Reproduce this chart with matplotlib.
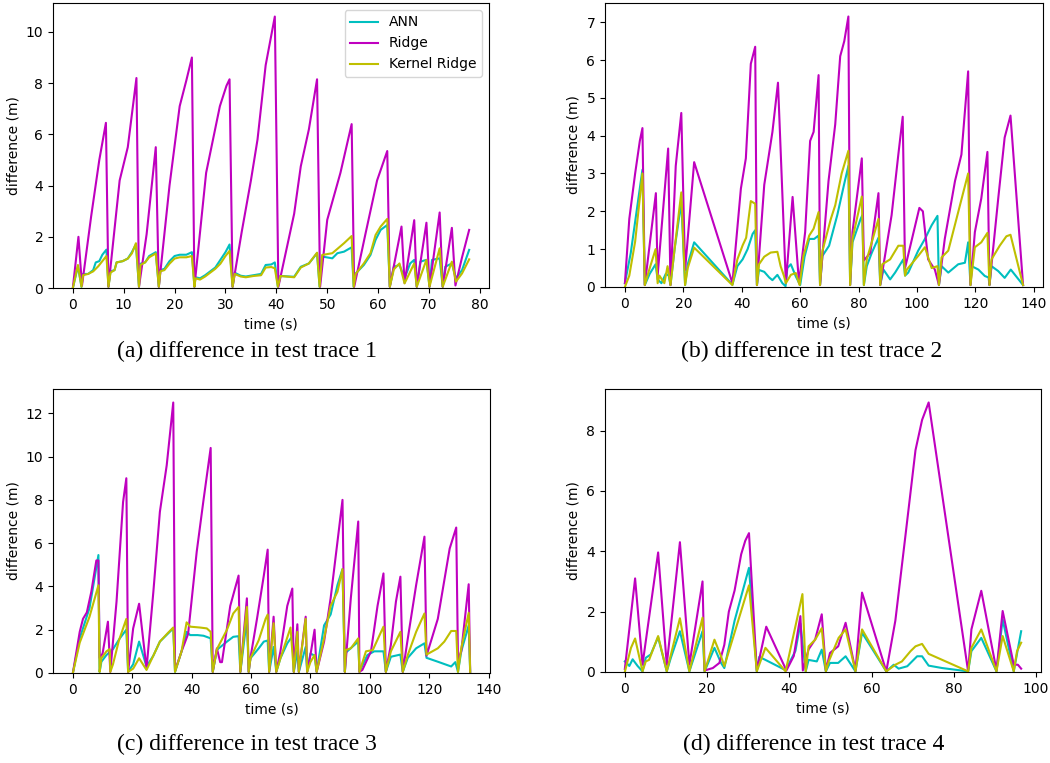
import matplotlib
matplotlib.use("Agg")
import matplotlib.pyplot as plt

# (time s, difference m)
a_ann = [(0, 0), (1.0, 0.85), (1.7, 0.05), (2.0, 0.55), (3.0, 0.55), (4.0, 0.7), (4.5, 1.0), (5.2, 1.05),
         (5.8, 1.3), (6.6, 1.5), (7.0, 0.05), (7.4, 0.65), (8.2, 0.7), (8.6, 1.0), (9.8, 1.05), (10.8, 1.15),
         (11.6, 1.4), (12.4, 1.7), (13.0, 0.05), (13.3, 0.95), (14.2, 1.0), (15.0, 1.25), (16.3, 1.4),
         (16.9, 0.05), (17.2, 0.7), (18.0, 0.75), (19.0, 1.05), (20.0, 1.25), (21.0, 1.3), (22.3, 1.3),
         (23.4, 1.4), (23.9, 0.05), (24.1, 0.42), (25.0, 0.38), (26.0, 0.5), (27.0, 0.65), (28.0, 0.8),
         (29.0, 1.1), (30.0, 1.4), (30.8, 1.7), (31.4, 0.05), (31.8, 0.6), (33.0, 0.48), (34.0, 0.45),
         (35.5, 0.5), (37.0, 0.55), (37.9, 0.9), (39.0, 0.92), (39.7, 1.0), (40.3, 0.05), (40.8, 0.47),
         (43.5, 0.44), (44.8, 0.83), (46.4, 0.96), (48.0, 1.36), (48.5, 0.05), (49.0, 1.23), (51.0, 1.16),
         (52.0, 1.36), (53.3, 1.42), (54.8, 1.59), (55.2, 0.05), (55.6, 0.57), (57.2, 0.9), (58.5, 1.29),
         (59.5, 1.88), (60.5, 2.27), (61.8, 2.46), (62.3, 0.05), (63.1, 0.83), (64.2, 0.9), (65.2, 0.38),
         (66.3, 0.96), (67.1, 1.1), (67.6, 0.05), (68.3, 1.03), (69.5, 1.1), (70.1, 0.05), (70.6, 1.1),
         (72.1, 1.16), (72.7, 0.05), (73.2, 0.83), (74.5, 0.96), (75.3, 0.38), (76.5, 0.7), (77.9, 1.49)]
a_ridge = [(0, 0), (1.1, 2.0), (1.8, 0.1), (3.6, 2.8), (5.2, 5.0), (6.5, 6.45), (7.0, 0.05), (9.2, 4.2),
           (10.8, 5.5), (12.5, 8.2), (13.0, 0.05), (14.5, 2.1), (16.3, 5.5), (16.9, 0.05), (19.0, 4.0),
           (21.0, 7.1), (22.3, 8.1), (23.4, 9.0), (23.9, 0.05), (26.2, 4.5), (28.9, 7.1), (30.2, 7.9),
           (30.8, 8.15), (31.4, 0.05), (33.2, 2.2), (35.0, 4.2), (36.3, 5.8), (37.9, 8.7), (39.7, 10.6),
           (40.4, 0.05), (43.5, 2.9), (44.8, 4.75), (46.4, 6.2), (48.0, 8.15), (48.6, 0.05), (50.0, 2.66),
           (52.6, 4.5), (54.8, 6.4), (55.3, 0.05), (57.5, 2.1), (59.8, 4.2), (61.8, 5.35), (62.3, 0.05),
           (64.6, 2.4), (65.2, 0.2), (67.1, 2.65), (67.6, 0.05), (69.5, 2.55), (70.1, 0.05), (72.1, 2.95),
           (72.7, 0.05), (74.5, 2.35), (75.2, 0.1), (76.5, 1.2), (77.9, 2.27)]
a_kernel = [(0, 0), (1.0, 0.9), (1.7, 0.05), (2.0, 0.5), (3.0, 0.55), (4.0, 0.65), (5.0, 0.85), (6.0, 1.1),
            (6.6, 1.25), (7.0, 0.05), (7.4, 0.6), (8.2, 0.7), (8.6, 1.0), (9.8, 1.05), (10.8, 1.15),
            (11.6, 1.35), (12.4, 1.75), (13.0, 0.05), (13.3, 0.9), (14.2, 1.0), (15.0, 1.2), (16.3, 1.35),
            (16.9, 0.05), (17.2, 0.65), (18.0, 0.7), (19.0, 0.95), (20.0, 1.15), (21.0, 1.2), (22.3, 1.2),
            (23.4, 1.25), (23.9, 0.05), (24.1, 0.38), (25.0, 0.33), (26.0, 0.45), (27.0, 0.6), (28.0, 0.75),
            (29.0, 0.95), (30.0, 1.25), (30.8, 1.45), (31.4, 0.05), (31.8, 0.55), (33.0, 0.45), (34.0, 0.42),
            (35.5, 0.47), (37.0, 0.5), (37.9, 0.8), (39.0, 0.82), (39.7, 0.77), (40.3, 0.05), (40.8, 0.47),
            (43.5, 0.42), (44.8, 0.8), (46.4, 0.96), (48.0, 1.38), (48.5, 0.05), (49.0, 1.29), (51.0, 1.36),
            (53.3, 1.75), (54.8, 2.03), (55.2, 0.05), (55.6, 0.55), (57.2, 0.96), (58.5, 1.36), (59.5, 2.07),
            (60.5, 2.4), (61.8, 2.7), (62.3, 0.05), (63.1, 0.73), (64.2, 0.96), (65.2, 0.18), (67.1, 0.96),
            (67.6, 0.05), (69.5, 1.1), (70.1, 0.05), (72.1, 1.55), (72.7, 0.05), (74.5, 1.03), (75.3, 0.25),
            (76.5, 0.57), (77.9, 1.12)]

b_ann = [(0, 0.1), (2.0, 0.9), (4.0, 2.0), (6.0, 3.1), (6.8, 0.05), (8.5, 0.35), (10.5, 0.6), (11.2, 0.2),
         (12.5, 0.1), (14.0, 0.35), (15.0, 0.3), (15.6, 0.05), (17.0, 1.0), (19.3, 2.25), (20.6, 0.05),
         (21.5, 0.6), (23.7, 1.18), (36.8, 0.06), (38.5, 0.55), (40.3, 0.73), (42.0, 1.0), (43.7, 1.4),
         (44.6, 1.5), (45.2, 0.05), (45.9, 0.45), (47.7, 0.4), (49.4, 0.25), (50.5, 0.18), (52.2, 0.32),
         (53.9, 0.1), (55.0, 0.02), (55.6, 0.5), (56.8, 0.6), (58.5, 0.28), (60.0, 0.05), (61.5, 0.8),
         (63.1, 1.27), (64.8, 1.27), (66.3, 1.36), (66.8, 0.05), (67.6, 0.82), (69.9, 1.09), (72.7, 1.9),
         (75.0, 2.7), (76.5, 3.2), (77.1, 0.05), (77.9, 1.18), (80.7, 1.8), (81.3, 1.9), (81.8, 0.05),
         (82.8, 0.55), (84.5, 0.9), (86.8, 1.3), (87.4, 0.05), (88.5, 0.46), (90.8, 0.2), (92.5, 0.38),
         (95.3, 0.73), (95.9, 0.3), (97.0, 0.38), (100.4, 0.96), (102.7, 1.27), (105.0, 1.63), (107.0, 1.88),
         (107.5, 0.05), (108.4, 0.55), (110.7, 0.38), (114.1, 0.6), (116.4, 0.64), (117.5, 1.18),
         (118.3, 0.05), (118.7, 0.55), (121.0, 0.46), (123.2, 0.29), (124.5, 0.25), (124.8, 0.05),
         (125.5, 0.55), (127.8, 0.42), (130.0, 0.24), (132.1, 0.46), (136.3, 0.05)]
b_ridge = [(0, 0.1), (1.5, 1.8), (3.5, 3.0), (5.1, 3.86), (6.0, 4.2), (6.8, 0.05), (10.6, 2.48), (11.2, 0.3),
           (14.8, 3.66), (15.6, 0.05), (17.4, 3.2), (19.3, 4.6), (20.6, 0.45), (23.7, 3.3), (36.8, 0.1),
           (39.7, 2.6), (41.4, 3.4), (43.1, 5.9), (44.6, 6.35), (45.2, 0.05), (47.7, 2.7), (50.5, 4.1),
           (52.4, 5.4), (55.1, 0.1), (57.4, 2.38), (59.6, 0.1), (61.7, 1.45), (63.4, 3.86), (64.6, 4.1),
           (66.3, 5.6), (66.8, 0.05), (69.7, 2.8), (72.0, 4.3), (73.7, 6.1), (75.1, 6.5), (76.5, 7.15),
           (77.1, 0.05), (77.9, 1.45), (81.1, 3.4), (81.8, 0.7), (84.0, 0.9), (86.8, 2.48), (87.4, 0.05),
           (91.3, 1.9), (93.6, 3.5), (95.1, 4.5), (95.9, 0.5), (100.8, 2.09), (102.0, 2.0), (103.8, 0.73),
           (106.1, 0.46), (107.5, 0.05), (109.5, 1.27), (113.0, 2.8), (115.2, 3.5), (117.5, 5.7),
           (118.3, 0.05), (119.8, 1.45), (122.0, 2.34), (124.1, 3.57), (124.8, 0.05), (127.8, 2.34),
           (130.0, 3.95), (132.0, 4.53), (136.3, 0.05)]
b_kernel = [(0, 0.0), (1.5, 0.3), (3.5, 1.2), (6.0, 3.0), (6.8, 0.05), (8.5, 0.5), (10.5, 1.0), (11.2, 0.1),
            (11.8, 0.3), (13.5, 0.1), (14.6, 0.55), (15.6, 0.05), (17.0, 1.0), (19.3, 2.5), (20.6, 0.05),
            (21.5, 0.5), (23.7, 1.04), (36.8, 0.05), (38.5, 0.73), (40.3, 1.1), (41.5, 1.3), (43.1, 2.27),
            (44.6, 2.2), (45.2, 0.05), (45.9, 0.6), (47.7, 0.8), (49.9, 0.91), (52.2, 0.93), (53.3, 0.55),
            (54.5, 0.28), (55.1, 0.1), (56.8, 0.32), (58.5, 0.37), (59.8, 0.05), (61.1, 0.82), (63.1, 1.36),
            (64.6, 1.54), (66.3, 1.98), (66.8, 0.05), (67.6, 0.95), (70.5, 1.8), (72.0, 2.16), (74.2, 3.0),
            (76.5, 3.6), (77.1, 0.05), (77.9, 1.27), (81.1, 2.39), (81.8, 0.05), (82.8, 0.73), (84.5, 1.18),
            (86.8, 1.8), (87.4, 0.05), (88.1, 0.6), (90.8, 0.73), (93.6, 1.09), (95.3, 1.09), (95.9, 0.3),
            (96.5, 0.46), (100.4, 0.82), (102.7, 1.05), (105.0, 0.5), (107.0, 0.55), (107.5, 0.05),
            (108.4, 0.78), (110.7, 0.96), (114.1, 1.98), (117.5, 3.0), (118.3, 0.05), (119.8, 1.05),
            (122.0, 1.18), (124.1, 1.43), (124.8, 0.05), (125.5, 0.73), (128.3, 1.09), (130.6, 1.34),
            (132.0, 1.38), (136.3, 0.05)]

c_ann = [(0, 0), (2.3, 1.6), (5.6, 3.0), (8.6, 5.45), (9.0, 0.05), (9.6, 0.52), (11.3, 0.83), (13.5, 1.1),
         (15.8, 1.6), (18.0, 2.0), (18.6, 0.05), (20.3, 0.4), (22.3, 1.45), (24.8, 0.3), (27.1, 0.8),
         (29.3, 1.45), (32.1, 1.83), (33.8, 2.06), (34.4, 0.05), (36.6, 1.0), (38.3, 1.9), (39.5, 1.75),
         (42.0, 1.75), (44.0, 1.72), (46.4, 1.6), (47.1, 0.05), (48.5, 1.07), (51.9, 1.45), (54.0, 1.67),
         (55.8, 1.7), (56.4, 0.05), (58.6, 2.5), (59.2, 0.05), (59.8, 0.68), (62.6, 1.14), (64.3, 1.45),
         (65.6, 1.5), (66.1, 0.05), (67.6, 1.2), (68.5, 0.05), (69.9, 0.68), (72.2, 1.37), (73.9, 1.7),
         (74.4, 0.05), (75.6, 1.0), (76.1, 0.05), (78.4, 1.2), (78.9, 0.05), (80.0, 0.9), (81.4, 0.8),
         (82.1, 0.05), (84.6, 2.2), (86.8, 2.7), (89.1, 4.06), (90.8, 4.8), (91.6, 0.05), (92.0, 0.95),
         (96.1, 1.45), (96.5, 0.05), (98.0, 0.5), (99.2, 0.83), (101.5, 1.0), (104.6, 1.0), (105.4, 0.05),
         (107.1, 0.75), (110.3, 0.85), (111.1, 0.05), (112.8, 0.7), (115.6, 1.14), (118.4, 1.37),
         (119.1, 0.7), (122.9, 0.52), (127.4, 0.3), (128.8, 0.5), (129.7, 0.05), (130.8, 1.0), (133.3, 2.2),
         (133.8, 0.05)]
c_ridge = [(0, 0), (2.3, 1.9), (3.4, 2.5), (4.7, 2.8), (6.2, 3.75), (7.9, 5.2), (8.6, 5.2), (9.0, 0.7),
           (10.0, 0.9), (11.8, 2.37), (12.6, 0.05), (14.7, 3.3), (16.9, 7.9), (18.0, 9.0), (18.6, 0.05),
           (20.3, 2.06), (22.3, 3.2), (24.8, 0.2), (27.1, 3.75), (29.3, 7.45), (31.6, 9.6), (33.8, 12.5),
           (34.4, 0.1), (36.6, 1.0), (38.8, 1.8), (41.7, 5.6), (44.0, 8.0), (46.4, 10.4), (47.1, 0.05),
           (48.5, 1.14), (49.6, 0.5), (50.2, 0.5), (53.0, 3.1), (55.8, 4.5), (56.4, 0.05), (58.6, 3.45),
           (59.2, 0.05), (59.8, 0.7), (62.0, 2.5), (64.3, 4.5), (65.6, 5.7), (66.1, 0.05), (67.6, 2.6),
           (68.5, 0.05), (69.9, 1.0), (72.2, 3.1), (73.9, 3.9), (74.4, 0.05), (75.6, 2.25), (76.1, 0.05),
           (78.4, 2.6), (78.9, 0.05), (80.0, 0.83), (81.4, 2.0), (82.1, 0.05), (84.6, 1.45), (86.8, 3.45),
           (89.1, 6.06), (90.8, 8.0), (91.6, 0.05), (93.6, 3.45), (96.1, 7.0), (96.5, 0.05), (97.5, 0.14),
           (100.4, 1.0), (102.6, 3.1), (104.6, 4.6), (105.4, 0.05), (107.1, 1.3), (108.8, 3.3), (110.3, 4.45),
           (111.1, 0.05), (112.8, 1.6), (115.6, 4.06), (118.4, 6.3), (119.1, 0.8), (122.9, 2.5),
           (126.9, 5.75), (129.1, 6.72), (129.7, 0.6), (130.8, 1.0), (133.3, 4.1), (133.8, 0.05)]
c_kernel = [(0, 0), (2.3, 1.4), (5.6, 2.6), (8.6, 4.05), (9.0, 0.05), (9.6, 0.68), (11.3, 1.0), (12.4, 1.1),
            (12.6, 0.05), (13.5, 0.4), (15.5, 1.5), (18.0, 2.5), (18.6, 0.05), (20.3, 0.2), (22.3, 0.68),
            (24.8, 0.14), (27.1, 0.8), (29.3, 1.45), (32.0, 1.85), (33.8, 2.1), (34.4, 0.05), (36.6, 1.0),
            (38.3, 2.34), (39.5, 2.14), (42.8, 2.1), (45.1, 2.06), (46.4, 1.9), (47.1, 0.05), (48.5, 1.1),
            (51.9, 2.0), (54.0, 2.75), (55.8, 3.05), (56.4, 0.05), (58.6, 3.05), (59.2, 0.05), (59.8, 0.68),
            (62.6, 1.52), (64.9, 2.5), (65.6, 2.7), (66.1, 0.05), (67.6, 2.3), (68.5, 0.05), (69.9, 0.68),
            (73.3, 2.1), (74.4, 0.05), (75.6, 1.9), (76.1, 0.05), (78.4, 2.5), (78.9, 0.05), (80.0, 0.5),
            (81.4, 0.83), (82.1, 0.05), (84.6, 1.6), (86.8, 3.1), (89.1, 3.75), (90.8, 4.8), (91.6, 0.05),
            (91.9, 1.06), (93.6, 1.14), (96.1, 1.6), (96.5, 0.05), (98.7, 1.0), (101.0, 1.06), (104.6, 2.14),
            (105.4, 0.05), (107.1, 1.0), (110.3, 1.9), (111.1, 0.05), (112.8, 0.83), (115.6, 1.9),
            (118.4, 2.75), (119.1, 0.85), (122.9, 1.14), (125.1, 1.45), (127.4, 1.94), (129.1, 1.94),
            (129.7, 0.05), (130.8, 1.14), (133.3, 2.78), (133.8, 0.05)]

d_ann = [(0, 0.35), (1.1, 0.2), (1.9, 0.42), (3.1, 0.2), (4.3, 0.02), (5.1, 0.47), (6.3, 0.58), (8.1, 1.15),
         (10.2, 0.02), (11.2, 0.47), (13.4, 1.35), (15.7, 0.02), (18.9, 1.35), (19.4, 0.02), (21.8, 0.8),
         (23.4, 0.3), (24.2, 0.13), (26.7, 1.7), (28.3, 2.5), (30.2, 3.45), (32.1, 0.02), (32.7, 0.5),
         (34.2, 0.4), (39.1, 0.06), (41.5, 0.7), (42.7, 1.6), (44.0, 0.02), (44.7, 0.4), (46.7, 0.35),
         (47.9, 0.74), (48.9, 0.02), (49.9, 0.3), (51.9, 0.3), (53.7, 0.52), (56.1, 0.02), (57.7, 1.3),
         (63.6, 0.02), (65.4, 0.24), (66.6, 0.11), (68.7, 0.19), (71.1, 0.52), (72.3, 0.52), (73.9, 0.21),
         (77.2, 0.13), (83.5, 0.02), (84.3, 0.69), (86.7, 1.13), (90.4, 0.02), (91.9, 1.74), (94.6, 0.02),
         (96.4, 1.35)]
d_ridge = [(0, 0.1), (2.5, 3.1), (4.3, 0.24), (8.1, 3.96), (10.2, 0.24), (13.4, 4.3), (15.7, 0.24),
           (18.9, 3.0), (19.4, 0.05), (21.4, 0.13), (23.0, 0.3), (24.2, 0.9), (25.3, 2.0), (26.7, 2.7),
           (28.3, 3.9), (29.3, 4.35), (30.2, 4.6), (32.1, 0.05), (34.4, 1.5), (39.3, 0.05), (41.1, 0.53),
           (42.7, 1.85), (43.3, 0.05), (44.7, 0.75), (46.3, 1.08), (47.9, 1.91), (48.9, 0.05), (49.9, 0.63),
           (51.9, 0.85), (53.7, 1.63), (56.1, 0.05), (57.7, 2.63), (63.6, 0.02), (65.8, 1.7), (68.3, 4.57),
           (70.7, 7.35), (72.3, 8.35), (73.9, 8.93), (83.5, 0.02), (84.3, 1.41), (86.7, 2.69), (90.4, 0.05),
           (91.9, 2.02), (94.6, 0.24), (95.6, 0.24), (96.4, 0.11)]
d_kernel = [(0, 0.0), (1.5, 0.8), (2.5, 1.11), (4.3, 0.02), (5.1, 0.35), (5.9, 0.4), (8.1, 1.19),
            (10.2, 0.02), (13.4, 1.78), (15.7, 0.02), (18.9, 1.8), (19.4, 0.02), (21.8, 1.07), (23.4, 0.52),
            (24.2, 0.19), (30.2, 2.87), (32.1, 0.02), (34.2, 0.8), (39.1, 0.02), (43.2, 2.58), (44.0, 0.02),
            (44.7, 0.85), (46.3, 1.07), (47.9, 1.45), (48.9, 0.02), (49.6, 0.35), (52.0, 1.13), (53.7, 1.41),
            (56.1, 0.02), (57.7, 1.41), (63.6, 0.02), (65.8, 0.24), (67.4, 0.35), (69.5, 0.69), (70.7, 0.85),
            (72.3, 0.93), (73.9, 0.6), (83.5, 0.02), (84.3, 0.8), (86.7, 1.41), (90.4, 0.02), (91.9, 1.19),
            (94.6, 0.02), (95.4, 0.69), (96.4, 0.97)]

series_names = ["ANN", "Ridge", "Kernel Ridge"]
series_colors = ["c", "m", "y"]
captions = ["(a) difference in test trace 1", "(b) difference in test trace 2",
            "(c) difference in test trace 3", "(d) difference in test trace 4"]
panels = [(a_ann, a_ridge, a_kernel), (b_ann, b_ridge, b_kernel),
          (c_ann, c_ridge, c_kernel), (d_ann, d_ridge, d_kernel)]

# axes boxes in figure fractions (left, bottom, width, height)
boxes = [(0.0505, 0.6225, 0.4152, 0.3736), (0.5762, 0.6239, 0.4171, 0.3722),
         (0.0505, 0.1180, 0.4162, 0.3722), (0.5762, 0.1193, 0.4152, 0.3709)]
caption_pos = [(0.235, 0.539), (0.773, 0.539), (0.235, 0.024), (0.775, 0.024)]

fig = plt.figure(figsize=(10.5, 7.63), dpi=100)

for i, (series, box) in enumerate(zip(panels, boxes)):
    ax = fig.add_axes(box)
    for data, name, color in zip(series, series_names, series_colors):
        t = [p[0] for p in data]
        d = [p[1] for p in data]
        ax.plot(t, d, color=color, lw=1.5, label=name)
    ax.set_ylim(bottom=0)
    ax.set_xlabel("time (s)", fontsize=10)
    ax.set_ylabel("difference (m)", fontsize=10)
    ax.tick_params(labelsize=10)
    if i == 0:
        ax.legend(loc="upper right", fontsize=10)
    fig.text(caption_pos[i][0], caption_pos[i][1], captions[i], ha="center", va="center",
             family="Liberation Serif", fontsize=17)

fig.savefig("out.png", dpi=100)
